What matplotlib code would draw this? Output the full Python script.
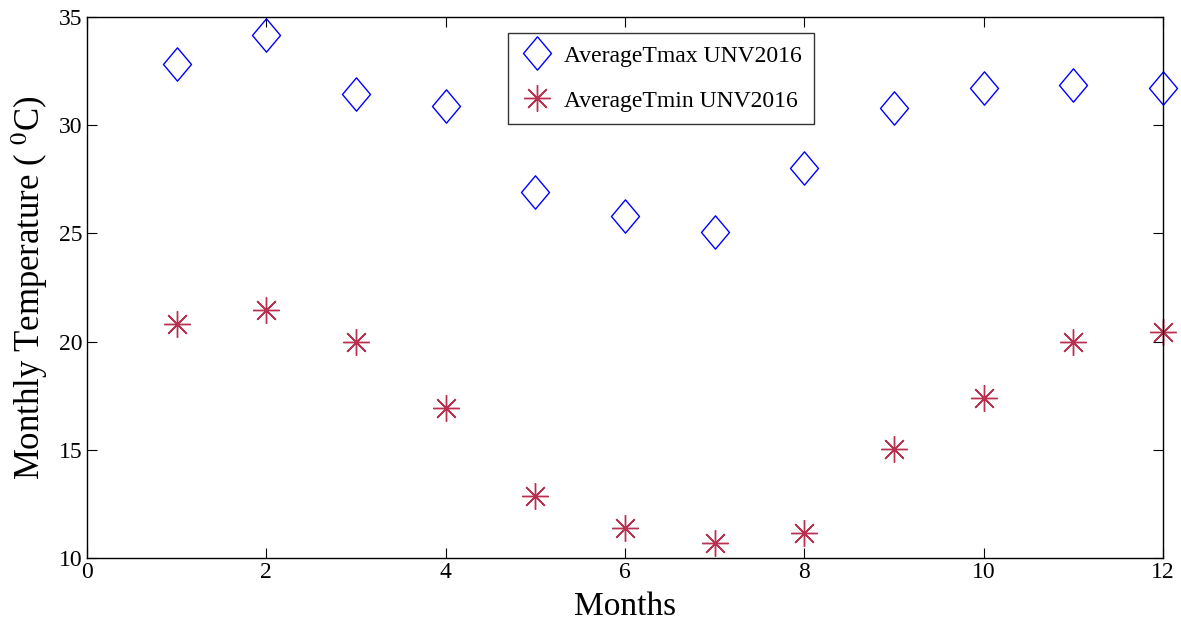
import matplotlib
matplotlib.use("Agg")
import matplotlib.pyplot as plt
from matplotlib.path import Path

months = [1, 2, 3, 4, 5, 6, 7, 8, 9, 10, 11, 12]
tmax = [32.85, 34.15, 31.45, 30.9, 26.9, 25.8, 25.05, 28.0, 30.8, 31.7, 31.85, 31.7]
tmin = [20.8, 21.45, 20.0, 16.95, 12.85, 11.4, 10.7, 11.15, 15.05, 17.4, 20.0, 20.45]
xticks = [0, 2, 4, 6, 8, 10, 12]
yticks = [10, 15, 20, 25, 30, 35]

plt.rcParams['font.family'] = ['Liberation Serif', 'DejaVu Serif']
plt.rcParams['mathtext.fontset'] = 'stix'

# matlab-like diamond, a bit taller than wide
diamond = Path([(0, 1), (0.84, 0), (0, -1), (-0.84, 0), (0, 1)],
               [Path.MOVETO, Path.LINETO, Path.LINETO, Path.LINETO, Path.CLOSEPOLY])

fig = plt.figure(figsize=(11.81, 6.26), dpi=100)
ax = fig.add_axes([87 / 1181, 68 / 626, 1076 / 1181, 541 / 626])

ax.plot(months, tmax, linestyle='none', marker=diamond, markersize=24,
        markerfacecolor='none', markeredgecolor='#0000ff', markeredgewidth=1.0,
        label='AverageTmax UNV2016', clip_on=False)
ax.plot(months, tmin, linestyle='none', marker=(8, 2, 0), markersize=19,
        markeredgecolor='#b8314e', markeredgewidth=1.0,
        label='AverageTmin UNV2016', clip_on=False)

ax.set_xlim(0, 12)
ax.set_ylim(10, 35)
ax.set_xticks(xticks)
ax.set_yticks(yticks)
ax.tick_params(direction='in', length=7, width=0.8, labelsize=17,
               top=True, right=True, pad=3)
for s in ax.spines.values():
    s.set_linewidth(1.0)

ax.set_xlabel('Months', fontsize=24, labelpad=6)
ax.set_ylabel(r'Monthly Temperature ( $^{0}$C)', fontsize=25)

leg = ax.legend(loc='upper left', bbox_to_anchor=(0.391, 0.97), borderaxespad=0,
                fontsize=17, frameon=True, fancybox=False, edgecolor='black',
                handletextpad=0.4, borderpad=0.5, labelspacing=1.0, handlelength=1.5)
leg.get_frame().set_linewidth(1.0)

# pull the y label a bit closer to the axis, like the matlab original
ax.yaxis.set_label_coords(-0.034, 0.5)

fig.savefig('out.png', dpi=100)
